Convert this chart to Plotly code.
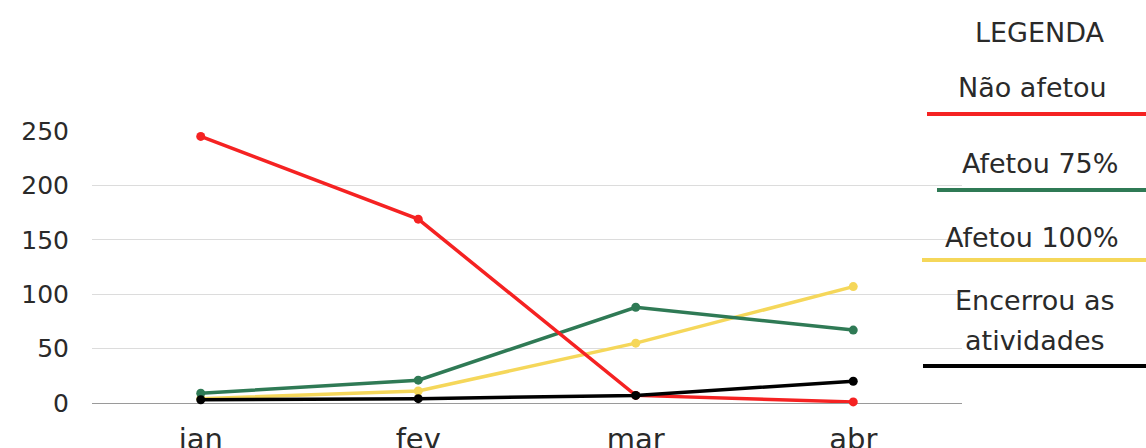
import plotly.graph_objects as go

months = ["jan", "fev", "mar", "abr"]
nao_afetou = [245, 169, 7, 1]
afetou_75 = [9, 21, 88, 67]
afetou_100 = [4, 11, 55, 107]
encerrou = [3, 4, 7, 20]

y_ticks = [0, 50, 100, 150, 200, 250]

series = [
    ("Não afetou", nao_afetou, "#f52222"),
    ("Afetou 75%", afetou_75, "#2f7a55"),
    ("Afetou 100%", afetou_100, "#f5d75a"),
    ("Encerrou as atividades", encerrou, "#000000"),
]

W, H = 1146, 448
L, R, T, B = 92, 184, 131, 45
PW, PH = W - L - R, H - T - B

fig = go.Figure()
for name, vals, color in [series[2], series[1], series[0], series[3]]:
    fig.add_trace(go.Scatter(
        x=months, y=vals, name=name, mode="lines+markers",
        line=dict(color=color, width=3.5), marker=dict(color=color, size=9),
        cliponaxis=False, showlegend=False,
    ))

fig.update_layout(
    width=W, height=H,
    margin=dict(l=L, r=R, t=T, b=B, autoexpand=False),
    paper_bgcolor="white", plot_bgcolor="white",
    font=dict(family="DejaVu Sans, sans-serif", color="#2a2a2a"),
    xaxis=dict(type="category", range=[-0.5, 3.5], showgrid=False, automargin=False,
               tickfont=dict(size=29), ticks="", ticklabelstandoff=16,
               showline=False, zeroline=False),
    yaxis=dict(range=[0, 250], tickvals=y_ticks, showgrid=True, gridcolor="#dcdcdc",
               gridwidth=1, tickfont=dict(size=25), ticks="", ticklabelstandoff=22,
               automargin=False,
               zeroline=True, zerolinecolor="#9a9a9a", zerolinewidth=1, showline=False),
)


def px_x(x):
    return (x - L) / PW


def px_y(y):
    return (H - B - y) / PH


lfont = dict(family="DejaVu Sans, sans-serif", size=27, color="#2a2a2a")
legend_items = [
    ("LEGENDA", 1040, 33),
    ("Não afetou", 1032, 88),
    ("Afetou 75%", 1040, 163),
    ("Afetou 100%", 1032, 237),
    ("Encerrou as", 1035, 300),
    ("atividades", 1035, 340),
]
for text, xc, yc in legend_items:
    fig.add_annotation(text=text, x=px_x(xc), y=px_y(yc), xref="paper", yref="paper",
                       xanchor="center", yanchor="middle", showarrow=False, font=lfont,
                       align="center")

lines = [(927, 114, series[0][2]), (937, 190, series[1][2]),
         (922, 260, series[2][2]), (923, 366, series[3][2])]
for x0, y, color in lines:
    fig.add_shape(type="line", xref="paper", yref="paper",
                  x0=px_x(x0), x1=px_x(W), y0=px_y(y), y1=px_y(y),
                  line=dict(color=color, width=4))

fig.write_html("out.html")
